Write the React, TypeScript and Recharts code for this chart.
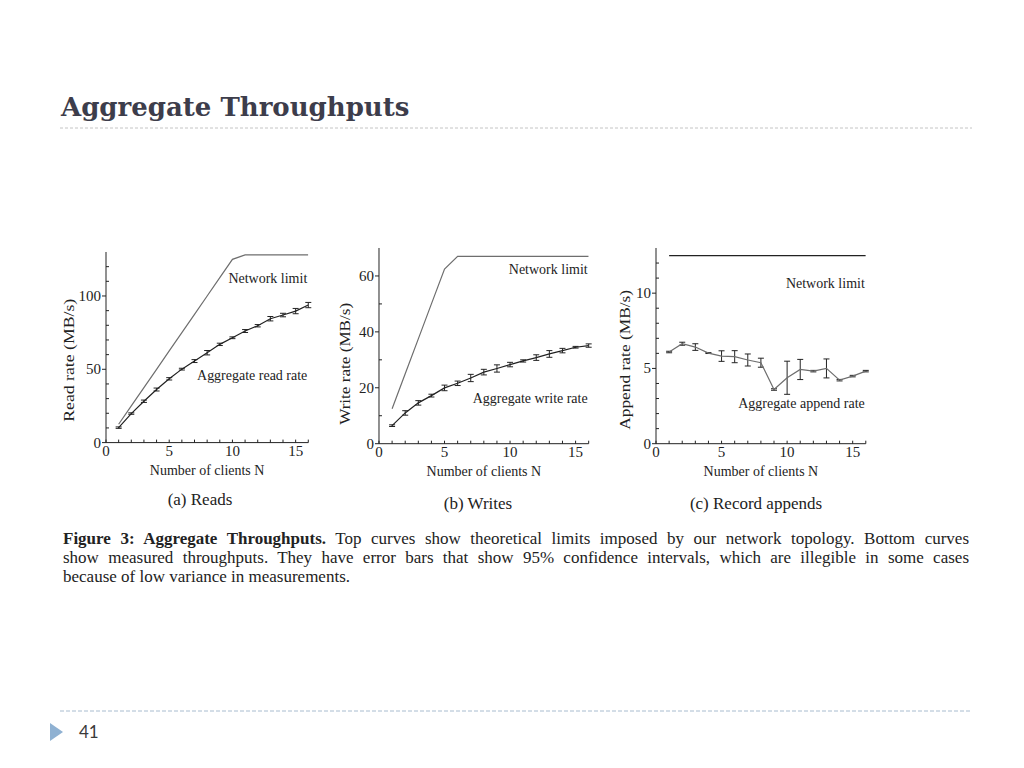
import React from 'react';
import { LineChart, Line, XAxis, YAxis, ErrorBar, ReferenceDot } from 'recharts';

// number of clients N
const clients = [1, 2, 3, 4, 5, 6, 7, 8, 9, 10, 11, 12, 13, 14, 15, 16];

// (a) reads, MB/s
const readLimit = [12.5, 25, 37.5, 50, 62.5, 75, 87.5, 100, 112.5, 125, 128, 128, 128, 128, 128, 128];
const readRate = [10.2, 19.8, 28.2, 36.2, 43.5, 50.1, 55.6, 61.3, 67, 71.5, 76.1, 79.7, 84.5, 87, 89.7, 93.8];
const readErr = [0.5, 0.5, 0.8, 1, 0.8, 0.6, 1, 1.5, 0.8, 0.6, 1, 0.8, 1.5, 1.2, 1.8, 1.8];

// (b) writes, MB/s
const writeLimit = [12.5, 25, 37.5, 50, 62.5, 67, 67, 67, 67, 67, 67, 67, 67, 67, 67, 67];
const writeRate = [6.45, 11, 14.6, 17.2, 19.95, 21.6, 23.5, 25.6, 26.9, 28.3, 29.6, 30.8, 32.1, 33.3, 34.5, 35.1];
const writeErr = [0.3, 0.8, 0.8, 0.5, 1, 0.8, 1.3, 1, 1.3, 0.8, 0.4, 1, 1.2, 0.8, 0.3, 0.6];

// (c) record appends, MB/s
const appendLimit = [12.5, 12.5, 12.5, 12.5, 12.5, 12.5, 12.5, 12.5, 12.5, 12.5, 12.5, 12.5, 12.5, 12.5, 12.5, 12.5];
const appendRate = [6.09, 6.64, 6.42, 6.02, 5.82, 5.78, 5.56, 5.38, 3.6, 4.38, 4.93, 4.82, 5.0, 4.22, 4.49, 4.82];
const appendErr = [0.05, 0.1, 0.22, 0.03, 0.35, 0.4, 0.4, 0.3, 0.05, 1.1, 0.67, 0.05, 0.63, 0.05, 0.05, 0.05];

// ticks (labelled majors + unlabelled minors)
const xAll = [0, 1, 2, 3, 4, 5, 6, 7, 8, 9, 10, 11, 12, 13, 14, 15, 16];
const xMajor = [0, 5, 10, 15];
const readAll = [0, 10, 20, 30, 40, 50, 60, 70, 80, 90, 100, 110, 120];
const readMajor = [0, 50, 100];
const writeAll = [0, 10, 20, 30, 40, 50, 60];
const writeMajor = [0, 20, 40, 60];
const appendAll = [0, 1, 2, 3, 4, 5, 6, 7, 8, 9, 10, 11, 12];
const appendMajor = [0, 5, 10];

const INK = '#222';
const GREY = '#6e6e6e';
const SERIF = '"Liberation Serif", "Times New Roman", serif';

const build = (limit: number[], rate: number[], err: number[]) =>
    clients.map((n, i) => ({ n, limit: limit[i], rate: rate[i], err: err[i] }));

const yLabel = (text: string, len: number, dx: number, dy: number) => (props: any) => {
    const vb = props.viewBox;
    const cx = vb.x + dx;
    const cy = vb.y + vb.height / 2 + dy;
    return (
        <text x={cx} y={cy} transform={`rotate(-90 ${cx} ${cy})`} textAnchor="middle"
            dominantBaseline="central" fontSize={14} fill={INK}
            textLength={len} lengthAdjust="spacingAndGlyphs">{text}</text>
    );
};

// x ticks: small inward tick at every integer, label under majors
const xTick = (majors: number[]) => (props: any) => {
    const { x, y, payload } = props;
    const v = payload.value;
    return (
        <g>
            <line x1={x} y1={y} x2={x} y2={y - 3} stroke={INK} strokeWidth={1} />
            {majors.includes(v) && (
                <text x={x} y={y + 13} textAnchor="middle" fontSize={15} fill={INK}>{v}</text>
            )}
        </g>
    );
};

// y ticks: outward tick + label on majors, inward tick on minors
const yTick = (majors: number[]) => (props: any) => {
    const { x, y, payload } = props;
    const v = payload.value;
    if (!majors.includes(v)) {
        return <line x1={x} y1={y} x2={x + 3} y2={y} stroke={INK} strokeWidth={1} />;
    }
    return (
        <g>
            <line x1={x - 4} y1={y} x2={x} y2={y} stroke={INK} strokeWidth={1} />
            <text x={x - 5} y={y + 5} textAnchor="end" fontSize={15} fill={INK}>{v}</text>
        </g>
    );
};

const Panel = ({ left, top, plotW, plotH, data, yMax, yAll, yMajor, title, labelLen, labelDx, labelDy,
    limitColor, rateColor, limitLabelY, rateLabel, rateLabelY }: any) => {
    return (
        <div style={{ position: 'absolute', left: left - 50, top: top - 10 }}>
            <LineChart width={plotW + 60} height={plotH + 46} data={data}
                margin={{ top: 10, right: 10, bottom: 0, left: 0 }}>
                <XAxis dataKey="n" type="number" domain={[0, 16]} ticks={xAll} allowDataOverflow interval={0}
                    tickSize={0} tickMargin={0} tickLine={false} stroke={INK} tick={xTick(xMajor)} height={36}
                    label={{ value: 'Number of clients N', position: 'insideBottom', offset: 4, fontSize: 14, fill: INK }} />
                <YAxis type="number" domain={[0, yMax]} ticks={yAll} allowDataOverflow width={50} interval={0}
                    tickSize={0} tickMargin={0} tickLine={false} stroke={INK} tick={yTick(yMajor)}
                    label={yLabel(title, labelLen, labelDx, labelDy)} />
                <Line dataKey="limit" stroke={limitColor} strokeWidth={1.2} dot={false} isAnimationActive={false} />
                <Line dataKey="rate" stroke={rateColor} strokeWidth={1.2} dot={false} isAnimationActive={false}>
                    <ErrorBar dataKey="err" direction="y" width={3} stroke={INK} strokeWidth={1} isAnimationActive={false} />
                </Line>
                <ReferenceDot x={16} y={limitLabelY} r={0} fill="none" stroke="none" ifOverflow="visible"
                    label={{ value: 'Network limit', position: 'left', offset: 1, fontSize: 14, fill: INK }} />
                <ReferenceDot x={16} y={rateLabelY} r={0} fill="none" stroke="none" ifOverflow="visible"
                    label={{ value: rateLabel, position: 'left', offset: 1, fontSize: 14, fill: INK }} />
            </LineChart>
        </div>
    );
};

const subCaption = (text: string, cx: number, cy: number) => (
    <div style={{ position: 'absolute', left: cx - 100, top: cy - 11, width: 200, textAlign: 'center', fontSize: 17, lineHeight: '22px' }}>
        {text}
    </div>
);

export default function App() {
    return (
        <div style={{ position: 'absolute', left: 0, top: 0, width: 1024, height: 768, background: '#fff', overflow: 'hidden', fontFamily: SERIF, color: INK }}>
            <div style={{ position: 'absolute', left: 61, top: 92, fontFamily: '"DejaVu Serif", serif', fontWeight: 'bold', fontSize: 26, lineHeight: '30px', color: '#3d3d4b' }}>
                Aggregate Throughputs
            </div>
            <svg width={1024} height={768} style={{ position: 'absolute', left: 0, top: 0 }}>
                <line x1={60} y1={128} x2={972} y2={128} stroke="#c4c4c4" strokeWidth={1} strokeDasharray="3 2" />
                <line x1={60} y1={711} x2={972} y2={711} stroke="#a8bccf" strokeWidth={1} strokeDasharray="4 2" />
                <polygon points="50,723 63,732 50,741" fill="#8fb1d2" />
            </svg>
            <div style={{ position: 'absolute', left: 79, top: 721, fontFamily: 'Lato, sans-serif', fontSize: 17, color: '#3a3a3a' }}>41</div>

            <Panel left={105.7} top={251.7} plotW={202.3} plotH={190.6} data={build(readLimit, readRate, readErr)}
                yMax={130} yAll={readAll} yMajor={readMajor} title="Read rate (MB/s)" labelLen={123}
                labelDx={13} labelDy={13} limitColor={GREY} rateColor={INK}
                limitLabelY={112} rateLabel="Aggregate read rate" rateLabelY={46} />
            <Panel left={378.6} top={248.3} plotW={209.7} plotH={195.7} data={build(writeLimit, writeRate, writeErr)}
                yMax={70} yAll={writeAll} yMajor={writeMajor} title="Write rate (MB/s)" labelLen={122}
                labelDx={17} labelDy={18} limitColor={GREY} rateColor={INK}
                limitLabelY={62.4} rateLabel="Aggregate write rate" rateLabelY={16.4} />
            <Panel left={656.2} top={248.3} plotW={209.8} plotH={195.7} data={build(appendLimit, appendRate, appendErr)}
                yMax={13} yAll={appendAll} yMajor={appendMajor} title="Append rate (MB/s)" labelLen={140}
                labelDx={19.5} labelDy={14} limitColor={INK} rateColor={GREY}
                limitLabelY={10.7} rateLabel="Aggregate append rate" rateLabelY={2.7} />

            {subCaption('(a) Reads', 200, 500)}
            {subCaption('(b) Writes', 478, 504)}
            {subCaption('(c) Record appends', 756, 504)}

            <div style={{ position: 'absolute', left: 63, top: 529, width: 906, fontSize: 17, lineHeight: '19px' }}>
                <div style={{ textAlign: 'justify', textAlignLast: 'justify' }}>
                    <b>Figure 3: Aggregate Throughputs.</b> Top curves show theoretical limits imposed by our network topology. Bottom curves
                </div>
                <div style={{ textAlign: 'justify', textAlignLast: 'justify' }}>
                    show measured throughputs. They have error bars that show 95% confidence intervals, which are illegible in some cases
                </div>
                <div>because of low variance in measurements.</div>
            </div>
        </div>
    );
}
